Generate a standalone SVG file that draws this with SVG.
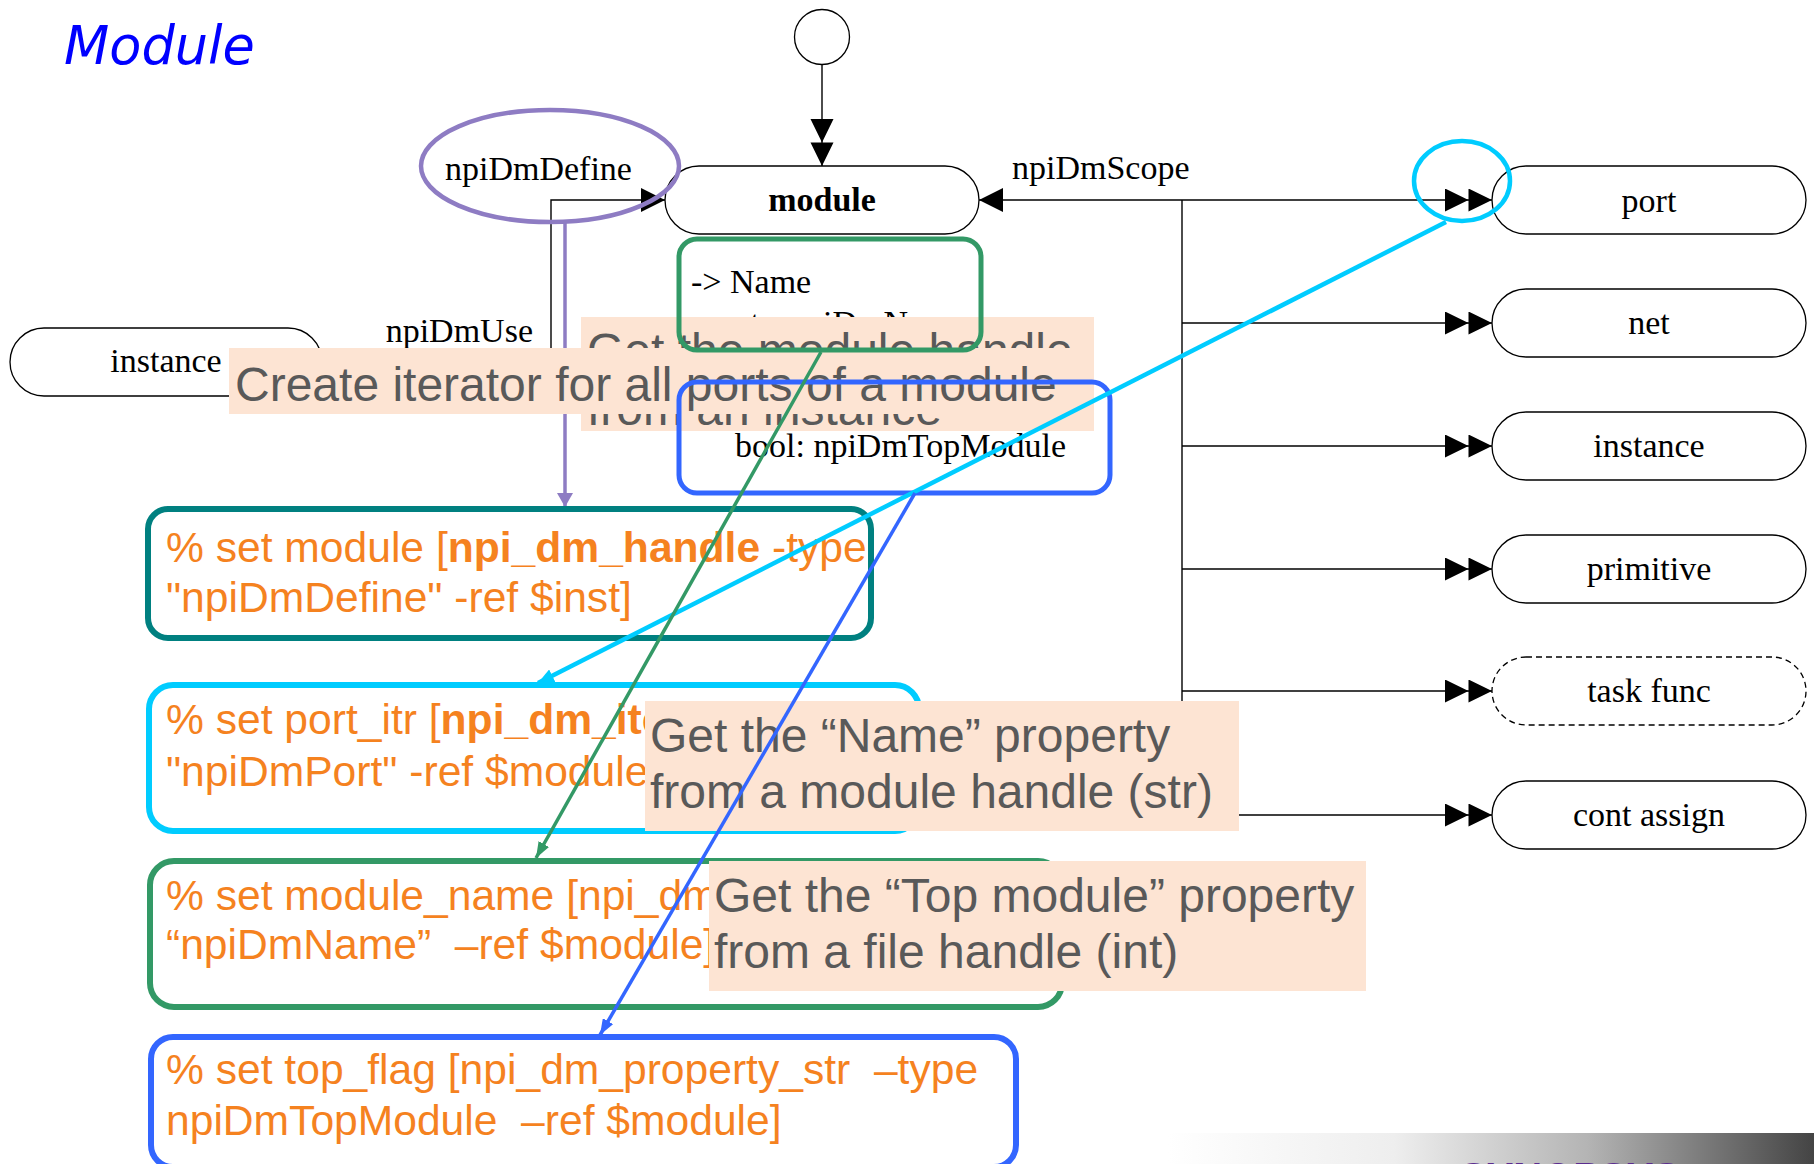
<svg xmlns="http://www.w3.org/2000/svg" width="1814" height="1164" viewBox="0 0 1814 1164">
<defs>
<style>
.serif{font-family:"Liberation Serif","Times New Roman",serif;font-size:34px;fill:#000}
.node{fill:#fff;stroke:#000;stroke-width:1.3}
.conn{fill:none;stroke:#000;stroke-width:1.4}
.code{font-family:"Liberation Sans",Arial,sans-serif;font-size:42.6px;fill:#F5821F}
.call{fill:#FDE4D3}
.calltext{font-family:"Liberation Sans",Arial,sans-serif;font-size:48px;fill:#595959}
.cbox{fill:none;stroke-width:6}
</style>
<marker id="arr" markerUnits="userSpaceOnUse" markerWidth="24" markerHeight="24" refX="24" refY="12" orient="auto"><path d="M0,0 L24,12 L0,24 Z" fill="#000"/></marker>
<marker id="arr2" markerUnits="userSpaceOnUse" markerWidth="48" markerHeight="24" refX="47" refY="11.5" orient="auto"><path d="M0,0 L23.5,11.5 L0,23 Z M23.5,0 L47,11.5 L23.5,23 Z" fill="#000"/></marker>
<marker id="mCyan" markerUnits="userSpaceOnUse" markerWidth="16" markerHeight="14" refX="16" refY="7" orient="auto"><path d="M0,0 L16,7 L0,14 Z" fill="#00CCFF"/></marker>
<marker id="mGreen" markerUnits="userSpaceOnUse" markerWidth="16" markerHeight="12" refX="16" refY="6" orient="auto"><path d="M0,0 L16,6 L0,12 Z" fill="#339966"/></marker>
<marker id="mBlue" markerUnits="userSpaceOnUse" markerWidth="16" markerHeight="12" refX="16" refY="6" orient="auto"><path d="M0,0 L16,6 L0,12 Z" fill="#3366FF"/></marker>
<marker id="mPurple" markerUnits="userSpaceOnUse" markerWidth="14" markerHeight="16" refX="14" refY="8" orient="auto"><path d="M0,0 L14,8 L0,16 Z" fill="#8E7CC3"/></marker>
<linearGradient id="foot" x1="0" y1="0" x2="1" y2="0">
<stop offset="0" stop-color="#ffffff"/>
<stop offset="0.35" stop-color="#eeeeee"/>
<stop offset="0.65" stop-color="#b4b4b4"/>
<stop offset="1" stop-color="#444444"/>
</linearGradient>
</defs>
<rect width="1814" height="1164" fill="#fff"/>
<text id="title" x="64" y="64" font-family="'DejaVu Sans',Verdana,sans-serif" font-style="italic" font-size="52.5" fill="#0000FF">Module</text>

<g id="connectors">
<path class="conn" d="M822,64 L822,166" marker-end="url(#arr2)"/>
<path class="conn" d="M322,362 L551,362 L551,200 L665,200" marker-end="url(#arr)"/>
<path class="conn" d="M1182,200 L979,200" marker-end="url(#arr)"/>
<path class="conn" d="M1182,200 L1182,815"/>
<path class="conn" d="M1182,200 L1492,200" marker-end="url(#arr2)"/>
<path class="conn" d="M1182,323 L1492,323" marker-end="url(#arr2)"/>
<path class="conn" d="M1182,446 L1492,446" marker-end="url(#arr2)"/>
<path class="conn" d="M1182,569 L1492,569" marker-end="url(#arr2)"/>
<path class="conn" d="M1182,691 L1492,691" marker-end="url(#arr2)"/>
<path class="conn" d="M1182,815 L1492,815" marker-end="url(#arr2)"/>
<text class="serif" x="445" y="180">npiDmDefine</text>
<text class="serif" x="533" y="342" text-anchor="end">npiDmUse</text>
<text class="serif" x="1012" y="179">npiDmScope</text>
</g>

<g id="start"><circle cx="822" cy="37" r="27.5" class="node"/></g>
<g id="module"><rect x="665" y="166" width="314" height="68" rx="34" class="node"/><text class="serif" x="822" y="211" text-anchor="middle" font-weight="bold">module</text></g>
<g id="instance-left"><rect x="10" y="328" width="312" height="68" rx="34" class="node"/><text class="serif" x="166" y="372" text-anchor="middle">instance</text></g>
<g id="port"><rect x="1492" y="166" width="314" height="68" rx="34" class="node"/><text class="serif" x="1649" y="212" text-anchor="middle">port</text></g>
<g id="net"><rect x="1492" y="289" width="314" height="68" rx="34" class="node"/><text class="serif" x="1649" y="334" text-anchor="middle">net</text></g>
<g id="instance"><rect x="1492" y="412" width="314" height="68" rx="34" class="node"/><text class="serif" x="1649" y="457" text-anchor="middle">instance</text></g>
<g id="primitive"><rect x="1492" y="535" width="314" height="68" rx="34" class="node"/><text class="serif" x="1649" y="580" text-anchor="middle">primitive</text></g>
<g id="taskfunc"><rect x="1492" y="657" width="314" height="68" rx="34" class="node" stroke-dasharray="6,4"/><text class="serif" x="1649" y="702" text-anchor="middle">task func</text></g>
<g id="contassign"><rect x="1492" y="781" width="314" height="68" rx="34" class="node"/><text class="serif" x="1649" y="826" text-anchor="middle">cont assign</text></g>

<g id="props">
<text class="serif" x="691" y="293">-&gt; Name</text>
<text class="serif" x="737" y="334">str: npiDmName</text>
<text class="serif" x="735" y="457" font-size="33">bool: npiDmTopModule</text>
</g>

<path id="purple-arrow" d="M565,223 L565,507" fill="none" stroke="#8E7CC3" stroke-width="3.5" marker-end="url(#mPurple)"/>

<g id="code-define">
<rect x="148" y="509" width="723" height="129" rx="20" class="cbox" stroke="#008080"/>
<text class="code" x="166" y="562" xml:space="preserve">% set module [<tspan font-weight="bold">npi_dm_handle</tspan> -type</text>
<text class="code" x="166" y="612">"npiDmDefine" -ref $inst]</text>
</g>
<g id="code-port">
<rect x="149" y="685" width="770" height="146" rx="24" class="cbox" stroke="#00CCFF"/>
<text class="code" x="166" y="734" xml:space="preserve">% set port_itr [<tspan font-weight="bold">npi_dm_iterator</tspan> -type</text>
<text class="code" x="166" y="786">"npiDmPort" -ref $module]</text>
</g>
<g id="code-name">
<rect x="150" y="861" width="912" height="146" rx="24" class="cbox" stroke="#339966"/>
<text class="code" x="166" y="910" xml:space="preserve">% set module_name [npi_dm_property_str  –type</text>
<text class="code" x="166" y="959" xml:space="preserve">“npiDmName”  –ref $module]</text>
</g>
<g id="code-top">
<rect x="151" y="1037" width="865" height="130" rx="22" class="cbox" stroke="#3366FF"/>
<text class="code" x="166" y="1084" xml:space="preserve">% set top_flag [npi_dm_property_str  –type</text>
<text class="code" x="166" y="1135" xml:space="preserve">npiDmTopModule  –ref $module]</text>
</g>

<g id="callout-handle">
<rect x="581" y="317" width="513" height="114" class="call"/>
<text class="calltext" x="587" y="367">Get the module handle</text>
<text class="calltext" x="587" y="425">from an instance</text>
</g>
<g id="callout-iter">
<rect x="229" y="348" width="865" height="66" class="call"/>
<text class="calltext" x="235" y="401">Create iterator for all ports of a module</text>
</g>
<g id="callout-name">
<rect x="645" y="701" width="594" height="130" class="call"/>
<text class="calltext" x="650" y="752">Get the “Name” property</text>
<text class="calltext" x="650" y="808">from a module handle (str)</text>
</g>
<g id="callout-top">
<rect x="709" y="861" width="657" height="130" class="call"/>
<text class="calltext" x="714" y="912">Get the “Top module” property</text>
<text class="calltext" x="714" y="968">from a file handle (int)</text>
</g>

<g id="highlights">
<rect x="679" y="239" width="302" height="111" rx="18" fill="none" stroke="#339966" stroke-width="5"/>
<rect x="679" y="382" width="431" height="111" rx="18" fill="none" stroke="#3366FF" stroke-width="5"/>
<ellipse cx="550" cy="166" rx="129" ry="56" fill="none" stroke="#8E7CC3" stroke-width="4.5"/>
<ellipse cx="1462" cy="181" rx="48" ry="40" fill="none" stroke="#00CCFF" stroke-width="4.5"/>
</g>

<g id="pointers">
<path d="M1446,222 L538,683" fill="none" stroke="#00CCFF" stroke-width="4.5" marker-end="url(#mCyan)"/>
<path d="M821,352 L536,858" fill="none" stroke="#339966" stroke-width="3.5" marker-end="url(#mGreen)"/>
<path d="M915,493 L600,1035" fill="none" stroke="#3366FF" stroke-width="3.5" marker-end="url(#mBlue)"/>
</g>

<g id="footer">
<rect x="1168" y="1133" width="646" height="31" fill="url(#foot)"/>
<text x="1460" y="1191" font-family="'Liberation Sans',Arial,sans-serif" font-weight="bold" font-size="40" fill="#5B2C8F">SYNOPSYS</text>
</g>
</svg>
